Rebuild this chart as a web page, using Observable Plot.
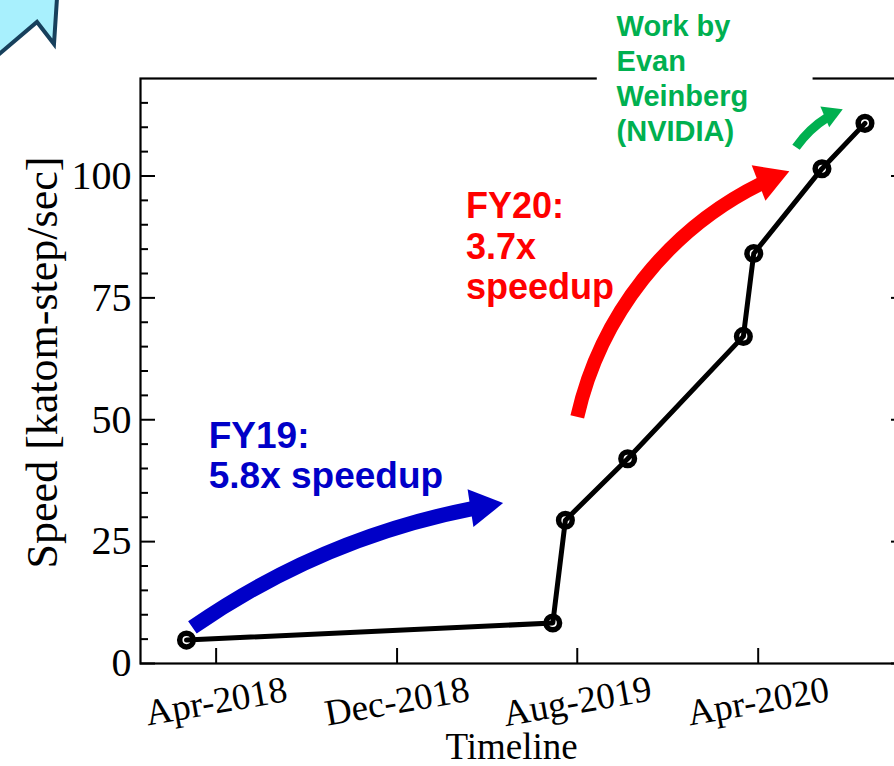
<!DOCTYPE html>
<html><head><meta charset="utf-8">
<script src="https://cdn.jsdelivr.net/npm/d3@7"></script>
<script src="https://cdn.jsdelivr.net/npm/@observablehq/plot@0.6"></script>
<style>
html,body{margin:0;padding:0;background:#fff;overflow:hidden;width:894px;height:766px;}
#wrap{position:relative;width:894px;height:766px;overflow:hidden;}
#callout{position:absolute;left:0;top:0;}
</style></head><body>
<div id="wrap"><div id="chart"></div>
<svg id="callout" width="70" height="70"><path d="M0,0 L0,53 L37,22 L54,44 L57,0 Z" fill="#a8f0fd"/><path d="M-2,55 L37,22 L54,44 L57,-2" fill="none" stroke="#17405c" stroke-width="4"/></svg>
</div>
<script>
// ---- data ----
const dates = ["2018-02-20","2019-06-29","2019-07-16","2019-10-08","2020-03-12","2020-03-26","2020-06-26","2020-08-23"];
const speeds = [4.8, 8.3, 29.4, 42.0, 67.1, 84.1, 101.5, 110.8];

const xTickDates = ["2018-04-01","2018-12-01","2019-08-01","2020-04-01"];
const xTickLabels = ["Apr-2018","Dec-2018","Aug-2019","Apr-2020"];
const yMajorTicks = [0, 25, 50, 75, 100];
const yMinorTicks = [5,10,15,20,30,35,40,45,55,60,65,70,80,85,90,95,105,110,115];
const xDomain = ["2017-12-20","2020-10-18"];
const yDomain = [0, 120];

const xLabel = "Timeline";
const yLabel = "Speed [katom-step/sec]";

// annotations
const noteText = ["FY19:\n5.8x speedup", "FY20:\n3.7x\nspeedup", "Work by\nEvan\nWeinberg\n(NVIDIA)"];
const noteX = ["2018-03-22","2019-03-04","2019-09-23"];
const noteY = [50.0, 97.3, 133.7];
const noteColor = ["#0000c8", "#ff0000", "#00b050"];
const noteSize = [37, 36, 29];
const noteLineHeight = [1.08, 1.13, 1.2];
const noteBoxX = ["2019-08-28","2020-06-14"];
const noteBoxY = [117, 123];

const arrowStartX = ["2018-02-28","2019-08-01","2020-05-22"];
const arrowStartY = [7.4, 50.6, 105.9];
const arrowEndX = ["2019-04-23","2020-05-13","2020-07-24"];
const arrowEndY = [32.9, 101.0, 113.7];
const arrowColor = ["#0000c8", "#ff0000", "#00b050"];
const arrowBend = [13, 28, 16];
const arrowWidth = [15, 14, 9];
const arrowHead = [22, 22, 13];

// ---- build ----
const P = s => new Date(s + "T00:00:00Z");
const data = dates.map((d, i) => ({date: P(d), speed: speeds[i]}));
const W = 894, H = 766, mL = 140, mR = -12, mT = 78, mB = 103;
const plotW = W - mL - mR, plotH = H - mT - mB;
const serif = "'Liberation Serif','Times New Roman',serif";
const sans = "'Liberation Sans',Arial,sans-serif";

const xs = d3.scaleUtc().domain(xDomain.map(P)).range([mL, W - mR]);
const ys = d3.scaleLinear().domain(yDomain).range([H - mB, mT]);

const arrowMarks = [];
arrowStartX.forEach((_, i) => {
  const a = {x1: P(arrowStartX[i]), y1: arrowStartY[i], x2: P(arrowEndX[i]), y2: arrowEndY[i]};
  const px1 = xs(a.x1), py1 = ys(a.y1), px2 = xs(a.x2), py2 = ys(a.y2);
  const ang = Math.atan2(py2 - py1, px2 - px1) + arrowBend[i] * Math.PI / 180;
  const s = arrowHead[i];
  const c = {x: xs.invert(px2 - s * Math.cos(ang)), y: ys.invert(py2 - s * Math.sin(ang))};
  arrowMarks.push(Plot.arrow([a], {x1: "x1", y1: "y1", x2: "x2", y2: "y2", bend: arrowBend[i],
    stroke: arrowColor[i], strokeWidth: arrowWidth[i], headLength: 0, insetEnd: 1.5 * s - 3,
    strokeLinecap: "butt"}));
  arrowMarks.push(Plot.dot([c], {x: "x", y: "y", symbol: "triangle2", r: s / 1.2095,
    fill: arrowColor[i], stroke: "none", rotate: ang * 180 / Math.PI + 90}));
});

const notes = noteText.map((t, i) => Plot.text([{x: P(noteX[i]), y: noteY[i], t}], {
  x: "x", y: "y", text: "t", textAnchor: "start", lineAnchor: "top", fill: noteColor[i],
  fontSize: noteSize[i], fontWeight: "bold", fontFamily: sans, lineHeight: noteLineHeight[i]}));

const xt = xTickDates.map((d, i) => ({date: P(d), label: xTickLabels[i]}));

const chart = Plot.plot({
  width: W, height: H, marginLeft: mL, marginRight: mR, marginTop: mT, marginBottom: mB,
  x: {type: "utc", domain: xDomain.map(P), axis: null},
  y: {domain: yDomain, axis: null},
  style: {background: "white", color: "black"},
  marks: [
    Plot.frame({stroke: "black", strokeWidth: 2.2}),
    Plot.tickX(xt, {x: "date", insetTop: plotH - 15, stroke: "black", strokeWidth: 2}),
    Plot.tickY(yMajorTicks, {y: d => d, insetRight: plotW - 15, stroke: "black", strokeWidth: 2}),
    Plot.tickY(yMinorTicks, {y: d => d, insetRight: plotW - 8, stroke: "black", strokeWidth: 2}),
    Plot.tickY(yMajorTicks, {y: d => d, insetLeft: plotW - 15, stroke: "black", strokeWidth: 2}),
    Plot.text(yMajorTicks, {y: d => d, text: d => String(d), frameAnchor: "left", dx: -9,
      textAnchor: "end", lineAnchor: "middle", fontSize: 40, fontFamily: serif, fill: "black"}),
    Plot.text(xt, {x: "date", text: "label", frameAnchor: "bottom", dy: 38, rotate: -10,
      textAnchor: "middle", lineAnchor: "middle", fontSize: 37, fontFamily: serif, fill: "black"}),
    Plot.text([xLabel], {frameAnchor: "bottom", dx: -12, dy: 84, textAnchor: "middle", lineAnchor: "middle",
      fontSize: 37, fontFamily: serif, fill: "black"}),
    Plot.text([yLabel], {frameAnchor: "left", dx: -98, dy: -8.5, rotate: -90, textAnchor: "middle",
      lineAnchor: "middle", fontSize: 44, fontFamily: serif, fill: "black"}),
    Plot.rect([{x1: P(noteBoxX[0]), x2: P(noteBoxX[1]), y1: noteBoxY[0], y2: noteBoxY[1]}],
      {x1: "x1", x2: "x2", y1: "y1", y2: "y2", fill: "white"}),
    ...notes,
    ...arrowMarks,
    Plot.line(data, {x: "date", y: "speed", stroke: "black", strokeWidth: 5}),
    Plot.dot(data, {x: "date", y: "speed", r: 6.8, stroke: "black", strokeWidth: 5.5, fill: "none"})
  ]
});
document.getElementById("chart").appendChild(chart);
</script>
</body></html>
